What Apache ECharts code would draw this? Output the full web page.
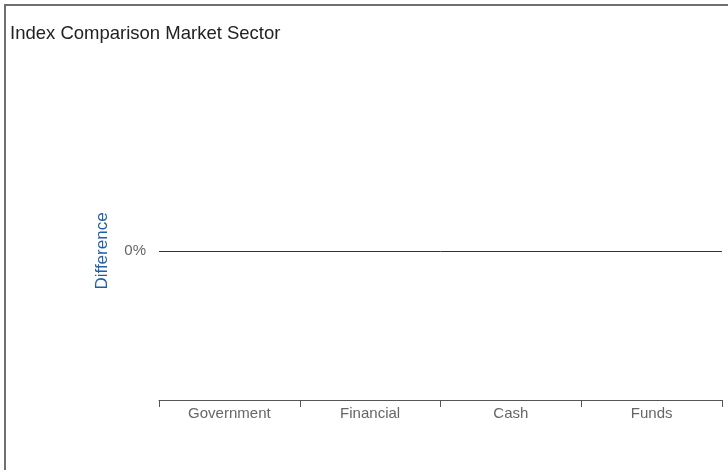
<!DOCTYPE html>
<html>
<head>
<meta charset="utf-8">
<script src="https://cdn.jsdelivr.net/npm/echarts@6/dist/echarts.min.js"></script>
<style>
html,body{margin:0;padding:0;background:#fff;}
#chart{position:absolute;left:0;top:0;width:728px;height:470px;}
#frame{position:absolute;left:4px;top:4px;width:740px;height:480px;border:2px solid #707070;pointer-events:none;box-sizing:border-box;}
</style>
</head>
<body>
<div id="chart"></div>
<div id="frame"></div>
<script>
const titleText = 'Index Comparison Market Sector';
const categories = ['Government', 'Financial', 'Cash', 'Funds'];
const differenceValues = [0, 0, 0, 0];
const yAxisName = 'Difference';
const yMin = -1, yMax = 1, yInterval = 1;

const chart = echarts.init(document.getElementById('chart'), null, {renderer: 'canvas'});
chart.setOption({
  animation: false,
  title: {
    text: titleText, left: 5, top: 19,
    textStyle: {fontFamily: 'Liberation Sans, Arial, sans-serif', fontSize: 18.5, fontWeight: 'normal', color: '#222'}
  },
  grid: {left: 159, right: 6, top: 102, bottom: 70, containLabel: false},
  xAxis: {
    type: 'category', data: categories, position: 'bottom',
    axisLine: {onZero: false, lineStyle: {color: '#555', width: 1}},
    axisTick: {show: true, length: 7, lineStyle: {color: '#555'}},
    axisLabel: {margin: 6, color: '#666', fontSize: 15, fontFamily: 'Liberation Sans, Arial, sans-serif'},
    splitLine: {show: false}
  },
  yAxis: {
    type: 'value', min: yMin, max: yMax, interval: yInterval,
    name: yAxisName, nameLocation: 'middle', nameGap: 48, nameRotate: 90,
    nameTextStyle: {color: '#1f5fa8', fontSize: 17, fontFamily: 'Liberation Sans, Arial, sans-serif'},
    axisLine: {show: false}, axisTick: {show: false}, splitLine: {show: false},
    axisLabel: {
      margin: 13, color: '#666', fontSize: 15, fontFamily: 'Liberation Sans, Arial, sans-serif',
      padding: [0, 0, 8, 0],
      formatter: v => (v === 0 ? '0%' : '')
    }
  },
  series: [{
    type: 'bar', name: yAxisName, data: differenceValues,
    itemStyle: {color: '#1f5fa8'},
    markLine: {
      silent: true, symbol: 'none', label: {show: false},
      lineStyle: {color: '#333', width: 1, type: 'solid'},
      data: [{yAxis: 0}]
    }
  }]
});
</script>
</body>
</html>
